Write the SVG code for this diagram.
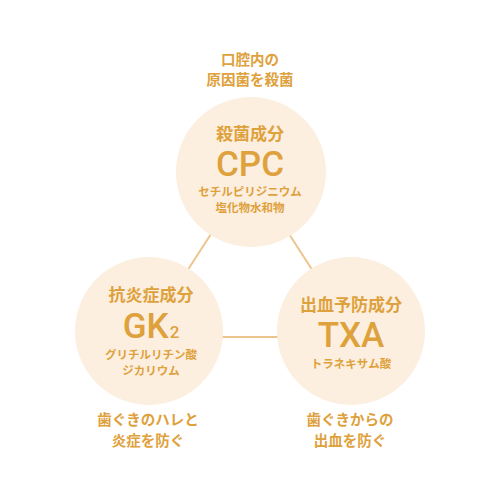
<svg xmlns="http://www.w3.org/2000/svg" width="500" height="500" viewBox="0 0 500 500">
<defs>
<style>
.bg{fill:#ffffff}
.circle{fill:#fcefe0}
.conn{stroke:#ecc58c;stroke-width:2;fill:none}
.t{fill:#dea13c;font-family:"Noto Sans CJK JP","Noto Sans",sans-serif;font-weight:700;text-anchor:middle}
.lab{font-size:14.5px}
.head{font-size:17px}
.sub{font-size:11.5px}
.big{font-family:Roboto,"Liberation Sans",sans-serif;font-weight:500;font-size:35px}
</style>
</defs>
<rect class="bg" x="0" y="0" width="500" height="500"/>
<g id="connectors">
<line class="conn" x1="220" y1="220" x2="180" y2="282"/>
<line class="conn" x1="280" y1="220" x2="320" y2="282"/>
<line class="conn" x1="215" y1="337" x2="285" y2="337"/>
</g>
<g id="label-top">
<text class="t lab" x="250" y="65">口腔内の</text>
<text class="t lab" x="250" y="85">原因菌を殺菌</text>
</g>
<g id="node-cpc">
<circle class="circle" cx="251" cy="172" r="75"/>
<text class="t head" x="250" y="140">殺菌成分</text>
<text class="t big" x="250" y="176">CPC</text>
<text class="t sub" x="250" y="196">セチルピリジニウム</text>
<text class="t sub" x="250" y="212">塩化物水和物</text>
</g>
<g id="node-gk2">
<circle class="circle" cx="149" cy="331" r="74"/>
<text class="t head" x="151" y="301">抗炎症成分</text>
<text class="t big" x="151" y="338">GK<tspan font-size="17" dx="1">2</tspan></text>
<text class="t sub" x="151" y="359">グリチルリチン酸</text>
<text class="t sub" x="151" y="375">ジカリウム</text>
</g>
<g id="node-txa">
<circle class="circle" cx="351" cy="331" r="74"/>
<text class="t head" x="351" y="311">出血予防成分</text>
<text class="t big" x="351" y="347">TXA</text>
<text class="t sub" x="351" y="368">トラネキサム酸</text>
</g>
<g id="label-left">
<text class="t lab" x="148" y="425">歯ぐきのハレと</text>
<text class="t lab" x="148" y="446">炎症を防ぐ</text>
</g>
<g id="label-right">
<text class="t lab" x="350" y="425">歯ぐきからの</text>
<text class="t lab" x="350" y="446">出血を防ぐ</text>
</g>
</svg>
